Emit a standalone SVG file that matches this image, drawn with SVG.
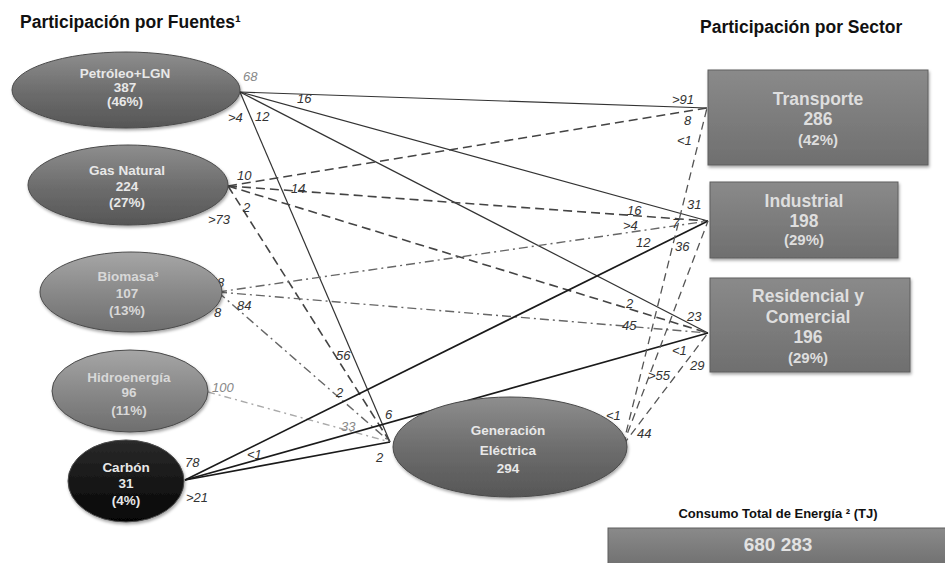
<svg xmlns="http://www.w3.org/2000/svg" width="945" height="563" viewBox="0 0 945 563">
<defs>
<linearGradient id="gEl" x1="0" y1="0" x2="0" y2="1"><stop offset="0" stop-color="#8e8e8e"/><stop offset="0.5" stop-color="#6e6e6e"/><stop offset="1" stop-color="#565656"/></linearGradient>
<linearGradient id="gLt" x1="0" y1="0" x2="0" y2="1"><stop offset="0" stop-color="#a6a6a6"/><stop offset="0.5" stop-color="#898989"/><stop offset="1" stop-color="#6e6e6e"/></linearGradient>
<linearGradient id="gBk" x1="0" y1="0" x2="0" y2="1"><stop offset="0" stop-color="#2a2a2a"/><stop offset="1" stop-color="#050505"/></linearGradient>
<linearGradient id="gRc" x1="0" y1="0" x2="0" y2="1"><stop offset="0" stop-color="#8a8a8a"/><stop offset="1" stop-color="#6f6f6f"/></linearGradient>
<filter id="sh" x="-10%" y="-10%" width="125%" height="130%"><feDropShadow dx="1" dy="2" stdDeviation="1.5" flood-color="#000" flood-opacity="0.35"/></filter>
</defs>
<style>
.title{font-family:"Liberation Sans",Arial,sans-serif;font-weight:bold;font-size:17.5px;fill:#111}
.nt{font-family:"Liberation Sans",Arial,sans-serif;font-weight:bold;font-size:13.5px;fill:#e8e8e8;text-anchor:middle}
.ntl{fill:#d8d8d8}
.rt{font-family:"Liberation Sans",Arial,sans-serif;font-weight:bold;font-size:17.5px;fill:#dedede;text-anchor:middle}
.rs{font-size:15px}
.lb{font-family:"Liberation Sans",Arial,sans-serif;font-style:italic;font-size:13px;fill:#333}
.lg{fill:#888}
.sol{fill:none;stroke:#333;stroke-width:1.2}
.solk{fill:none;stroke:#1a1a1a;stroke-width:1.7}
.dsh{fill:none;stroke:#444;stroke-width:1.6;stroke-dasharray:9 5}
.dd{fill:none;stroke:#666;stroke-width:1.4;stroke-dasharray:9 4 2 4}
.ddl{fill:none;stroke:#aaa;stroke-width:1.4;stroke-dasharray:7 4 2 4}
.dso{fill:none;stroke:#555;stroke-width:1.3;stroke-dasharray:8 5}
.el{stroke:#4a4a4a;stroke-width:1;filter:url(#sh)}
.rc{fill:url(#gRc);stroke:#5e5e5e;stroke-width:1;filter:url(#sh)}
</style>
<rect width="945" height="563" fill="#fff"/>
<text class="title" x="20" y="28">Participación por Fuentes¹</text>
<text class="title" x="700" y="33">Participación por Sector</text>

<g id="connectors">
<line class="sol" x1="240" y1="92" x2="707" y2="108"/>
<line class="sol" x1="240" y1="92" x2="708" y2="221"/>
<line class="sol" x1="240" y1="92" x2="708" y2="333"/>
<line class="sol" x1="240" y1="92" x2="390" y2="442"/>
<line class="dsh" x1="228" y1="186" x2="707" y2="108"/>
<line class="dsh" x1="228" y1="186" x2="708" y2="221"/>
<line class="dsh" x1="228" y1="186" x2="708" y2="333"/>
<line class="dsh" x1="228" y1="186" x2="390" y2="442"/>
<line class="dd" x1="218" y1="292" x2="708" y2="221"/>
<line class="dd" x1="218" y1="292" x2="708" y2="333"/>
<line class="dd" x1="218" y1="292" x2="390" y2="442"/>
<line class="ddl" x1="208" y1="392" x2="390" y2="442"/>
<line class="solk" x1="185" y1="480" x2="708" y2="221"/>
<line class="solk" x1="185" y1="480" x2="708" y2="333"/>
<line class="solk" x1="185" y1="480" x2="390" y2="442"/>
<line class="dso" x1="623" y1="445" x2="707" y2="108"/>
<line class="dso" x1="623" y1="445" x2="708" y2="221"/>
<line class="dso" x1="623" y1="445" x2="708" y2="333"/>

<text class="lb lg" x="243" y="81">68</text>
<text class="lb" x="297" y="103">16</text>
<text class="lb" x="228" y="122">&gt;4</text>
<text class="lb" x="255" y="121">12</text>
<text class="lb" x="237" y="180">10</text>
<text class="lb" x="291" y="193">14</text>
<text class="lb" x="243" y="212">2</text>
<text class="lb" x="208" y="224">&gt;73</text>
<text class="lb" x="217" y="287">8</text>
<text class="lb" x="237" y="310">84</text>
<text class="lb" x="214" y="317">8</text>
<text class="lb lg" x="212" y="392">100</text>
<text class="lb" x="336" y="360">56</text>
<text class="lb" x="336" y="397">2</text>
<text class="lb lg" x="341" y="431">33</text>
<text class="lb" x="385" y="419">6</text>
<text class="lb" x="376" y="462">2</text>
<text class="lb" x="247" y="459">&lt;1</text>
<text class="lb" x="185" y="467">78</text>
<text class="lb" x="186" y="502">&gt;21</text>
<text class="lb" x="672" y="104">&gt;91</text>
<text class="lb" x="684" y="125">8</text>
<text class="lb" x="677" y="145">&lt;1</text>
<text class="lb" x="687" y="209">31</text>
<text class="lb" x="627" y="215">16</text>
<text class="lb" x="623" y="230">&gt;4</text>
<text class="lb" x="672" y="228">7</text>
<text class="lb" x="636" y="247">12</text>
<text class="lb" x="675" y="251">36</text>
<text class="lb" x="626" y="308">2</text>
<text class="lb" x="622" y="330">45</text>
<text class="lb" x="687" y="321">23</text>
<text class="lb" x="672" y="355">&lt;1</text>
<text class="lb" x="690" y="370">29</text>
<text class="lb" x="648" y="380">&gt;55</text>
<text class="lb" x="606" y="420">&lt;1</text>
<text class="lb" x="637" y="438">44</text>
</g>

<g id="petroleo">
<ellipse class="el" cx="126" cy="90" rx="114" ry="38" fill="url(#gEl)"/>
<text class="nt" x="125" y="78">Petróleo+LGN</text>
<text class="nt" x="125" y="92">387</text>
<text class="nt" x="125" y="106">(46%)</text>
</g>
<g id="gasnatural">
<ellipse class="el" cx="128" cy="185" rx="100" ry="40" fill="url(#gEl)"/>
<text class="nt" x="127" y="175">Gas Natural</text>
<text class="nt" x="127" y="191">224</text>
<text class="nt" x="127" y="207">(27%)</text>
</g>
<g id="biomasa">
<ellipse class="el" cx="131" cy="292" rx="91" ry="40" fill="url(#gLt)"/>
<text class="nt ntl" x="128" y="281">Biomasa³</text>
<text class="nt ntl" x="127" y="298">107</text>
<text class="nt ntl" x="127" y="315">(13%)</text>
</g>
<g id="hidroenergia">
<ellipse class="el" cx="130" cy="391" rx="78" ry="41" fill="url(#gLt)"/>
<text class="nt ntl" x="129" y="382">Hidroenergía</text>
<text class="nt ntl" x="129" y="397">96</text>
<text class="nt ntl" x="129" y="415">(11%)</text>
</g>
<g id="carbon">
<ellipse class="el" cx="126" cy="481" rx="58" ry="41" fill="url(#gBk)" stroke="#000"/>
<text class="nt" x="126" y="472">Carbón</text>
<text class="nt" x="126" y="488">31</text>
<text class="nt" x="126" y="505">(4%)</text>
</g>
<g id="generacion">
<ellipse class="el" cx="510" cy="447" rx="117" ry="50" fill="url(#gEl)"/>
<text class="nt" x="508" y="435">Generación</text>
<text class="nt" x="508" y="455">Eléctrica</text>
<text class="nt" x="508" y="473">294</text>
</g>
<g id="transporte">
<rect class="rc" x="708" y="70" width="220" height="95"/>
<text class="rt" x="818" y="105">Transporte</text>
<text class="rt" x="818" y="125">286</text>
<text class="rt rs" x="818" y="145">(42%)</text>
</g>
<g id="industrial">
<rect class="rc" x="710" y="182" width="188" height="76"/>
<text class="rt" x="804" y="207">Industrial</text>
<text class="rt" x="804" y="227">198</text>
<text class="rt rs" x="804" y="245">(29%)</text>
</g>
<g id="residencial">
<rect class="rc" x="710" y="278" width="200" height="94"/>
<text class="rt" x="808" y="302">Residencial y</text>
<text class="rt" x="808" y="323">Comercial</text>
<text class="rt" x="808" y="343">196</text>
<text class="rt rs" x="808" y="363">(29%)</text>
</g>
<g id="total">
<text x="778" y="518" text-anchor="middle" font-family="Liberation Sans, Arial, sans-serif" font-weight="bold" font-size="13" fill="#111">Consumo Total de Energía ² (TJ)</text>
<rect x="608" y="528" width="340" height="40" fill="url(#gRc)" stroke="#5e5e5e"/>
<text x="778" y="551" text-anchor="middle" font-family="Liberation Sans, Arial, sans-serif" font-weight="bold" font-size="19" fill="#e2e2e2">680 283</text>
</g>
</svg>
